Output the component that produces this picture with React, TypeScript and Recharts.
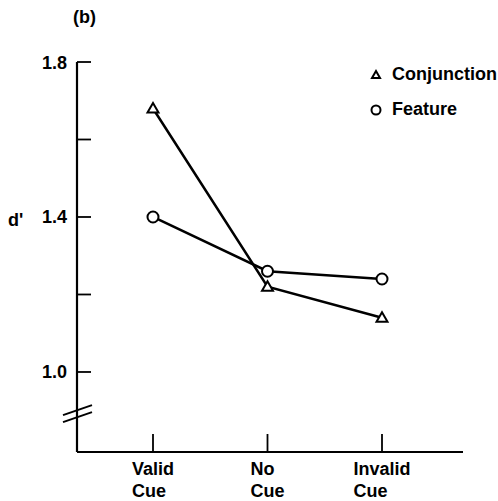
import { LineChart, Line, XAxis, YAxis, Legend, ReferenceDot } from 'recharts';

const cues = ['Valid Cue', 'No Cue', 'Invalid Cue'];
const conjunction = [1.68, 1.22, 1.14];
const feature = [1.4, 1.26, 1.24];
const yTicks = [1.0, 1.2, 1.4, 1.6, 1.8];
const yLabels = [1.0, 1.4, 1.8];

const FONT = '"Liberation Sans", Arial, Helvetica, sans-serif';

const data = cues.map((cue, i) => ({
  cue,
  conjunction: conjunction[i],
  feature: feature[i]
}));

let ctx: CanvasRenderingContext2D | null = null;
const measure = (text: string) => {
  if (!ctx) ctx = document.createElement('canvas').getContext('2d');
  if (!ctx) return text.length * 10;
  ctx.font = `bold 18px ${FONT}`;
  return ctx.measureText(text).width;
};

const TriangleDot = ({ cx, cy, size = 5.5 }: any) => {
  if (cx == null || cy == null) return null;
  return (
    <polygon
      points={`${cx},${cy - size} ${cx - size},${cy + size * 0.75} ${cx + size},${cy + size * 0.75}`}
      fill="#fff"
      stroke="#000"
      strokeWidth={2}
    />
  );
};

const CircleDot = ({ cx, cy }: any) => {
  if (cx == null || cy == null) return null;
  return <circle cx={cx} cy={cy} r={5.5} fill="#fff" stroke="#000" strokeWidth={2} />;
};

const XTick = ({ x, y, payload }: any) => {
  const lines = String(payload.value).split(' ');
  const w = Math.max(...lines.map(measure));
  const left = x - w / 2;
  return (
    <g>
      <line x1={x} y1={y} x2={x} y2={y - 18} stroke="#000" strokeWidth={1.8} />
      {lines.map((l, i) => (
        <text key={i} x={left} y={y + 23 + i * 22} fontFamily={FONT} fontWeight="bold" fontSize={18} fill="#000">
          {l}
        </text>
      ))}
    </g>
  );
};

const YTick = ({ x, y, payload }: any) => {
  const show = yLabels.some((v) => Math.abs(v - payload.value) < 1e-6);
  return (
    <g>
      <line x1={x} y1={y} x2={x + 14} y2={y} stroke="#000" strokeWidth={1.8} />
      {show && (
        <text x={x - 10} y={y + 6.5} textAnchor="end" fontFamily={FONT} fontWeight="bold" fontSize={18} fill="#000">
          {payload.value.toFixed(1)}
        </text>
      )}
    </g>
  );
};

const AxisBreak = ({ cx, cy }: any) => {
  if (cx == null || cy == null) return null;
  return (
    <g stroke="#000" strokeWidth={2}>
      <line x1={cx - 14} y1={cy - 1} x2={cx + 15} y2={cy - 11} />
      <line x1={cx - 14} y1={cy + 6} x2={cx + 15} y2={cy - 4} />
    </g>
  );
};

const LegendContent = () => (
  <div style={{ fontFamily: FONT, fontWeight: 'bold', fontSize: 18, color: '#000', whiteSpace: 'nowrap' }}>
    {[
      { name: 'Conjunction', dot: <TriangleDot cx={10} cy={10} size={4} /> },
      { name: 'Feature', dot: <circle cx={10} cy={10} r={4.5} fill="#fff" stroke="#000" strokeWidth={2} /> }
    ].map((item) => (
      <div key={item.name} style={{ display: 'flex', alignItems: 'center', height: 35 }}>
        <svg width={20} height={20} style={{ marginRight: 6 }}>{item.dot}</svg>
        <span>{item.name}</span>
      </div>
    ))}
  </div>
);

export default function App() {
  return (
    <div style={{ position: 'absolute', left: 0, top: 0, width: 498, height: 501, overflow: 'hidden', background: '#fff' }}>
      <LineChart width={498} height={501} data={data} margin={{ top: 62, right: 35, bottom: 0, left: 37 }}>
        <XAxis
          dataKey="cue"
          height={49}
          padding={{ left: 76, right: 81 }}
          axisLine={{ stroke: '#000', strokeWidth: 2.2 }}
          tickLine={false}
          tickSize={0}
          tickMargin={0}
          interval={0}
          tick={<XTick />}
        />
        <YAxis
          type="number"
          width={40}
          domain={[0.7935, 1.8]}
          ticks={yTicks}
          interval={0}
          allowDataOverflow
          axisLine={{ stroke: '#000', strokeWidth: 2.2 }}
          tickLine={false}
          tickSize={0}
          tickMargin={0}
          tick={<YTick />}
        />
        <ReferenceDot x="Valid Cue" y={0.886} r={0} shape={(p: any) => <AxisBreak cx={p.cx - 76} cy={p.cy} />} ifOverflow="visible" />
        <Line
          dataKey="conjunction"
          stroke="#000"
          strokeWidth={2.5}
          dot={<TriangleDot />}
          isAnimationActive={false}
        />
        <Line
          dataKey="feature"
          stroke="#000"
          strokeWidth={2.5}
          dot={<CircleDot />}
          isAnimationActive={false}
        />
        <Legend
          layout="vertical"
          align="center"
          verticalAlign="middle"
          content={<LegendContent />}
          wrapperStyle={{ top: 57, left: 366, width: 'auto', height: 'auto' }}
        />
      </LineChart>
      <svg width={498} height={501} style={{ position: 'absolute', left: 0, top: 0, pointerEvents: 'none' }}>
        <text x={73} y={23} fontFamily={FONT} fontWeight="bold" fontSize={18} fill="#000">(b)</text>
        <text x={8} y={226} fontFamily={FONT} fontWeight="bold" fontSize={18} fill="#000">d'</text>
      </svg>
    </div>
  );
}
